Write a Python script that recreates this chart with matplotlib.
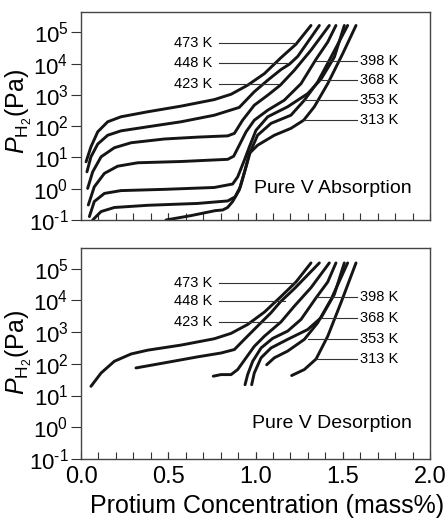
import numpy as np
import matplotlib
matplotlib.use("Agg")
import matplotlib.pyplot as plt
from matplotlib.ticker import FixedLocator, FixedFormatter, NullLocator

plt.rcParams['font.family'] = ['Liberation Sans', 'DejaVu Sans']
plt.rcParams['mathtext.fontset'] = 'custom'
plt.rcParams['mathtext.rm'] = 'Liberation Sans'
plt.rcParams['mathtext.it'] = 'Liberation Sans:italic'

temps = ['473 K', '448 K', '423 K', '398 K', '368 K', '353 K', '313 K']
y_exponents = [-1, 0, 1, 2, 3, 4, 5]
x_ticks = [0.0, 0.5, 1.0, 1.5, 2.0]

# absorption isotherms: concentration (mass%) and log10 pressure (Pa)
abs_473_x = [0.029, 0.057, 0.096, 0.153, 0.229, 0.382, 0.573, 0.764, 0.860, 0.955, 1.051, 1.146, 1.232, 1.318]
abs_473_lp = [0.86, 1.34, 1.82, 2.14, 2.30, 2.46, 2.64, 2.85, 3.02, 3.31, 3.68, 4.19, 4.62, 5.22]
abs_448_x = [0.034, 0.057, 0.096, 0.153, 0.229, 0.382, 0.573, 0.764, 0.907, 0.993, 1.070, 1.146, 1.194, 1.242, 1.366]
abs_448_lp = [0.54, 1.02, 1.43, 1.71, 1.85, 1.98, 2.14, 2.35, 2.60, 3.10, 3.47, 3.81, 3.98, 4.23, 5.22]
abs_423_x = [0.038, 0.067, 0.115, 0.191, 0.287, 0.478, 0.669, 0.841, 0.879, 0.926, 0.993, 1.070, 1.142, 1.223, 1.318, 1.423]
abs_423_lp = [0.01, 0.54, 1.02, 1.31, 1.47, 1.59, 1.65, 1.69, 1.77, 2.19, 2.67, 2.99, 3.31, 3.79, 4.43, 5.22]
abs_398_x = [0.042, 0.076, 0.134, 0.210, 0.325, 0.573, 0.841, 0.875, 0.907, 0.946, 0.993, 1.070, 1.165, 1.261, 1.347, 1.414, 1.461]
abs_398_lp = [-0.52, 0.06, 0.49, 0.72, 0.83, 0.87, 0.94, 1.04, 1.39, 1.82, 2.19, 2.51, 2.83, 3.36, 4.14, 4.69, 5.22]
abs_368_x = [0.048, 0.076, 0.134, 0.229, 0.478, 0.764, 0.869, 0.898, 0.936, 0.965, 1.003, 1.070, 1.184, 1.299, 1.375, 1.452, 1.509]
abs_368_lp = [-0.89, -0.41, -0.15, -0.06, -0.02, 0.04, 0.15, 0.38, 0.91, 1.34, 1.87, 2.30, 2.62, 3.04, 3.50, 4.21, 5.22]
abs_353_x = [0.067, 0.115, 0.191, 0.382, 0.669, 0.841, 0.883, 0.913, 0.946, 0.970, 1.012, 1.089, 1.203, 1.280, 1.356, 1.433, 1.528]
abs_353_lp = [-1.0, -0.73, -0.60, -0.53, -0.47, -0.39, -0.26, 0.06, 0.70, 1.18, 1.71, 2.09, 2.35, 2.83, 3.41, 4.21, 5.22]
abs_313_x = [0.487, 0.630, 0.700, 0.770, 0.812, 0.840, 0.869, 0.907, 0.940, 0.965, 1.012, 1.108, 1.203, 1.276, 1.337, 1.414, 1.500, 1.576]
abs_313_lp = [-1.0, -0.86, -0.78, -0.70, -0.68, -0.60, -0.41, -0.04, 0.60, 1.13, 1.39, 1.71, 1.93, 2.19, 2.62, 3.36, 4.32, 5.22]

# desorption isotherms
des_473_x = [0.057, 0.115, 0.191, 0.287, 0.382, 0.573, 0.764, 0.860, 0.955, 1.051, 1.146, 1.232, 1.318]
des_473_lp = [1.29, 1.71, 2.08, 2.31, 2.43, 2.59, 2.79, 2.96, 3.24, 3.63, 4.12, 4.58, 5.18]
des_448_x = [0.315, 0.478, 0.669, 0.802, 0.879, 0.936, 1.012, 1.089, 1.142, 1.223, 1.366]
des_448_lp = [1.87, 2.03, 2.22, 2.34, 2.45, 2.77, 3.19, 3.61, 3.95, 4.37, 5.18]
des_423_x = [0.758, 0.802, 0.860, 0.898, 0.946, 0.993, 1.051, 1.146, 1.223, 1.318, 1.423]
des_423_lp = [1.61, 1.66, 1.66, 1.82, 2.19, 2.55, 2.87, 3.32, 3.82, 4.40, 5.18]
des_398_x = [0.940, 0.955, 0.984, 1.032, 1.098, 1.184, 1.261, 1.347, 1.414, 1.461]
des_398_lp = [1.34, 1.66, 2.08, 2.50, 2.80, 3.03, 3.40, 4.08, 4.58, 5.18]
des_368_x = [0.978, 0.993, 1.032, 1.089, 1.184, 1.299, 1.375, 1.452, 1.509]
des_368_lp = [1.34, 1.71, 2.19, 2.50, 2.77, 3.08, 3.45, 4.19, 5.18]
des_353_x = [1.064, 1.108, 1.184, 1.280, 1.356, 1.433, 1.528]
des_353_lp = [1.97, 2.19, 2.40, 2.77, 3.29, 4.03, 5.18]
des_313_x = [1.207, 1.280, 1.347, 1.414, 1.490, 1.576]
des_313_lp = [1.63, 1.82, 2.15, 2.87, 3.93, 5.18]

abs_x = [abs_473_x, abs_448_x, abs_423_x, abs_398_x, abs_368_x, abs_353_x, abs_313_x]
abs_lp = [abs_473_lp, abs_448_lp, abs_423_lp, abs_398_lp, abs_368_lp, abs_353_lp, abs_313_lp]
des_x = [des_473_x, des_448_x, des_423_x, des_398_x, des_368_x, des_353_x, des_313_x]
des_lp = [des_473_lp, des_448_lp, des_423_lp, des_398_lp, des_368_lp, des_353_lp, des_313_lp]

# leader lines: (label y in log10 Pa, x where line meets the curve)
abs_marks = [(4.65, 1.226), (4.01, 1.186), (3.34, 1.129), (4.08, 1.347), (3.47, 1.37), (2.83, 1.28), (2.19, 1.27)]
des_marks = [(4.56, 1.226), (3.99, 1.17), (3.32, 1.13), (4.09, 1.347), (3.43, 1.375), (2.79, 1.30), (2.16, 1.345)]


def sup_label(e):
    if e < 0:
        return r'$\mathregular{10^{' + '\u2010' + str(-e) + '}}$'
    return r'$\mathregular{10^{' + str(e) + '}}$'


def draw_panel(ax, xs, lps, marks, title, title_y, label_y):
    for x, lp in zip(xs, lps):
        ax.plot(x, 10 ** np.array(lp), color='#151515', lw=2.1,
                solid_joinstyle='round', solid_capstyle='round')
    for i, (t, (ly, xc)) in enumerate(zip(temps, marks)):
        y = 10 ** ly
        if i < 3:
            ax.plot([0.79, xc], [y, y], color='#333333', lw=0.8)
            ax.text(0.755, y, t, ha='right', va='center', fontsize=10.5)
        else:
            ax.plot([xc, 1.582], [y, y], color='#333333', lw=0.8)
            ax.text(1.60, y, t, ha='left', va='center', fontsize=10.5)
    ax.text(1.897, 10 ** title_y, title, ha='right', va='center', fontsize=14)

    ax.set_yscale('log')
    ax.set_xlim(0, 2.0)
    ax.set_ylim(0.1, 10 ** 5.65)
    ax.yaxis.set_major_locator(FixedLocator([10.0 ** e for e in y_exponents]))
    ax.yaxis.set_major_formatter(FixedFormatter([sup_label(e) for e in y_exponents]))
    ax.yaxis.set_minor_locator(NullLocator())
    ax.set_xticks(x_ticks)
    ax.set_xticks(np.arange(0.1, 2.0, 0.1), minor=True)
    ax.xaxis.remove_overlapping_locs = False
    ax.tick_params(axis='x', which='both', direction='in', length=5, width=0.8,
                   color='#333333', labelsize=17, pad=5)
    ax.tick_params(axis='y', direction='out', length=7, width=0.8,
                   color='#333333', labelsize=16, pad=2)
    ax.set_ylabel(r'$P_{\mathrm{H_2}}$(Pa)', fontsize=18)
    ax.yaxis.set_label_coords(-0.135, label_y)
    for s in ax.spines.values():
        s.set_color('#444444')
        s.set_linewidth(1.0)


fig = plt.figure(figsize=(4.48, 5.25), dpi=100)
ax1 = fig.add_axes([81 / 448, 1 - 220 / 525, 349 / 448, 208 / 525])
ax2 = fig.add_axes([81 / 448, 1 - 459 / 525, 349 / 448, 211 / 525])

draw_panel(ax1, abs_x, abs_lp, abs_marks, 'Pure V Absorption', 0.02, 0.52)
draw_panel(ax2, des_x, des_lp, des_marks, 'Pure V Desorption', 0.12, 0.505)
ax1.tick_params(axis='x', which='major', labelbottom=False)
ax2.set_xlabel('Protium Concentration (mass%)', fontsize=18)
ax2.xaxis.set_label_coords(0.534, -0.165)

fig.savefig('out.png', dpi=100)
